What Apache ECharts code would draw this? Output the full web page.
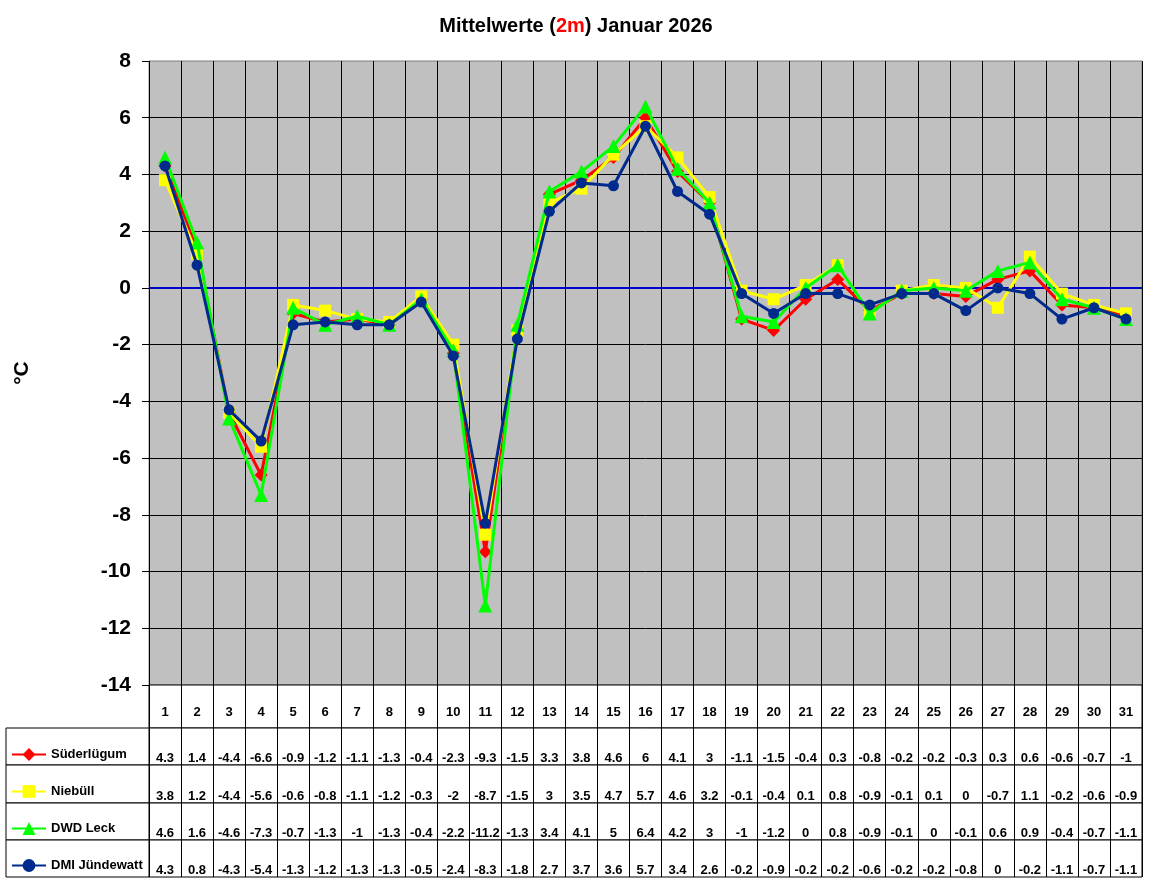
<!DOCTYPE html>
<html><head><meta charset="utf-8">
<script src="https://cdn.jsdelivr.net/npm/echarts/dist/echarts.min.js"></script>
<style>html,body{margin:0;padding:0;background:#fff}#c{width:1152px;height:882px}</style>
</head><body><div id="c"></div>
<script>
const days = [1,2,3,4,5,6,7,8,9,10,11,12,13,14,15,16,17,18,19,20,21,22,23,24,25,26,27,28,29,30,31];
const suederluegum = [4.3,1.4,-4.4,-6.6,-0.9,-1.2,-1.1,-1.3,-0.4,-2.3,-9.3,-1.5,3.3,3.8,4.6,6,4.1,3,-1.1,-1.5,-0.4,0.3,-0.8,-0.2,-0.2,-0.3,0.3,0.6,-0.6,-0.7,-1];
const niebuell = [3.8,1.2,-4.4,-5.6,-0.6,-0.8,-1.1,-1.2,-0.3,-2,-8.7,-1.5,3,3.5,4.7,5.7,4.6,3.2,-0.1,-0.4,0.1,0.8,-0.9,-0.1,0.1,0,-0.7,1.1,-0.2,-0.6,-0.9];
const dwdLeck = [4.6,1.6,-4.6,-7.3,-0.7,-1.3,-1,-1.3,-0.4,-2.2,-11.2,-1.3,3.4,4.1,5,6.4,4.2,3,-1,-1.2,0,0.8,-0.9,-0.1,0,-0.1,0.6,0.9,-0.4,-0.7,-1.1];
const dmiJuendewatt = [4.3,0.8,-4.3,-5.4,-1.3,-1.2,-1.3,-1.3,-0.5,-2.4,-8.3,-1.8,2.7,3.7,3.6,5.7,3.4,2.6,-0.2,-0.9,-0.2,-0.2,-0.6,-0.2,-0.2,-0.8,0,-0.2,-1.1,-0.7,-1.1];
const seriesNames = ['Süderlügum','Niebüll','DWD Leck','DMI Jündewatt'];
const seriesData = [suederluegum, niebuell, dwdLeck, dmiJuendewatt];
const yMin = -14, yMax = 8, yStep = 2;

const FONT = 'Arial, "Liberation Sans", sans-serif';
const colors = ['#ff0000','#ffff00','#00ff00','#002a8c'];
const symbols = ['diamond','rect','triangle','circle'];
const symbolSizes = [13,12,14,11];
const rowTop = [728,765,803,840];
const rowH = [37,38,37,37];

const grids = [{left:149, right:10, top:61, height:624, show:true, backgroundColor:'#c0c0c0', borderColor:'#808080', borderWidth:1}];
const xAxes = [{
  gridIndex:0, type:'category', data:days, boundaryGap:true,
  axisLine:{show:true, lineStyle:{color:'#000', width:1}},
  axisTick:{show:false},
  axisLabel:{show:false},
  splitLine:{show:true, interval:0, lineStyle:{color:'#000', width:1}}
}];
const yAxes = [{
  gridIndex:0, type:'value', min:yMin, max:yMax, interval:yStep,
  axisLine:{show:false},
  axisTick:{show:true, length:7, lineStyle:{color:'#000'}},
  axisLabel:{margin:18, fontSize:21, fontWeight:'bold', color:'#000', fontFamily:FONT},
  splitLine:{show:true, showMinLine:false, showMaxLine:false, lineStyle:{color:'#000', width:1}},
  name:'°C', nameLocation:'middle', nameGap:116, nameRotate:90,
  nameTextStyle:{fontSize:21, fontWeight:'bold', color:'#000', fontFamily:FONT}
}];
// header row (day numbers)
grids.push({left:149, right:10, top:685, height:43, show:true, backgroundColor:'#fff', borderColor:'#000', borderWidth:1});
xAxes.push({
  gridIndex:1, type:'category', data:days, boundaryGap:true, position:'bottom',
  axisLine:{show:false}, axisTick:{show:false},
  axisLabel:{interval:0, inside:true, margin:9, fontSize:13, fontWeight:'bold', color:'#000', fontFamily:FONT},
  splitLine:{show:true, interval:0, lineStyle:{color:'#000', width:1}}
});
yAxes.push({gridIndex:1, type:'value', show:false});
// table rows (values)
for (let i = 0; i < 4; i++) {
  grids.push({left:149, right:10, top:rowTop[i], height:rowH[i], show:true, backgroundColor:'#fff', borderColor:'#000', borderWidth:1});
  xAxes.push({
    gridIndex:grids.length-1, type:'category', data:seriesData[i].map(String), boundaryGap:true, position:'bottom',
    axisLine:{show:false}, axisTick:{show:false},
    axisLabel:{interval:0, inside:true, margin:0, fontSize:13, fontWeight:'bold', color:'#000', fontFamily:FONT},
    splitLine:{show:true, interval:0, lineStyle:{color:'#000', width:1}}
  });
  yAxes.push({gridIndex:grids.length-1, type:'value', show:false});
}
// table rows (legend column boxes)
for (let i = 0; i < 4; i++) {
  grids.push({left:6, width:143, top:rowTop[i], height:rowH[i], show:true, backgroundColor:'#fff', borderColor:'#000', borderWidth:1});
  xAxes.push({gridIndex:grids.length-1, type:'category', data:[''], show:false});
  yAxes.push({gridIndex:grids.length-1, type:'value', show:false});
}

const series = seriesNames.map((n, i) => {
  const s = {
    name:n, type:'line', xAxisIndex:0, yAxisIndex:0, data:seriesData[i],
    symbol:symbols[i], symbolSize:symbolSizes[i], showAllSymbol:true,
    lineStyle:{width:3, color:colors[i]}, itemStyle:{color:colors[i]},
    emphasis:{disabled:true}, z:3+i
  };
  if (i === 0) {
    s.markLine = {silent:true, symbol:'none', label:{show:false},
      lineStyle:{color:'#0000c8', width:2, type:'solid'}, data:[{yAxis:0}], z:2};
  }
  return s;
});

const chart = echarts.init(document.getElementById('c'));
chart.setOption({
  animation:false,
  backgroundColor:'#fff',
  title:{
    text:'Mittelwerte ({r|2m}) Januar 2026', left:'center', top:11,
    textStyle:{fontSize:20, fontWeight:'bold', color:'#000', fontFamily:FONT,
      rich:{r:{fontSize:20, fontWeight:'bold', color:'#ff0000', fontFamily:FONT}}}
  },
  legend:{
    orient:'vertical', left:6, top:743, itemWidth:34, itemHeight:16, itemGap:24,
    selectedMode:false, data:seriesNames,
    textStyle:{fontSize:13, fontWeight:'bold', color:'#000', fontFamily:FONT}
  },
  grid:grids, xAxis:xAxes, yAxis:yAxes, series:series
});
</script></body></html>
